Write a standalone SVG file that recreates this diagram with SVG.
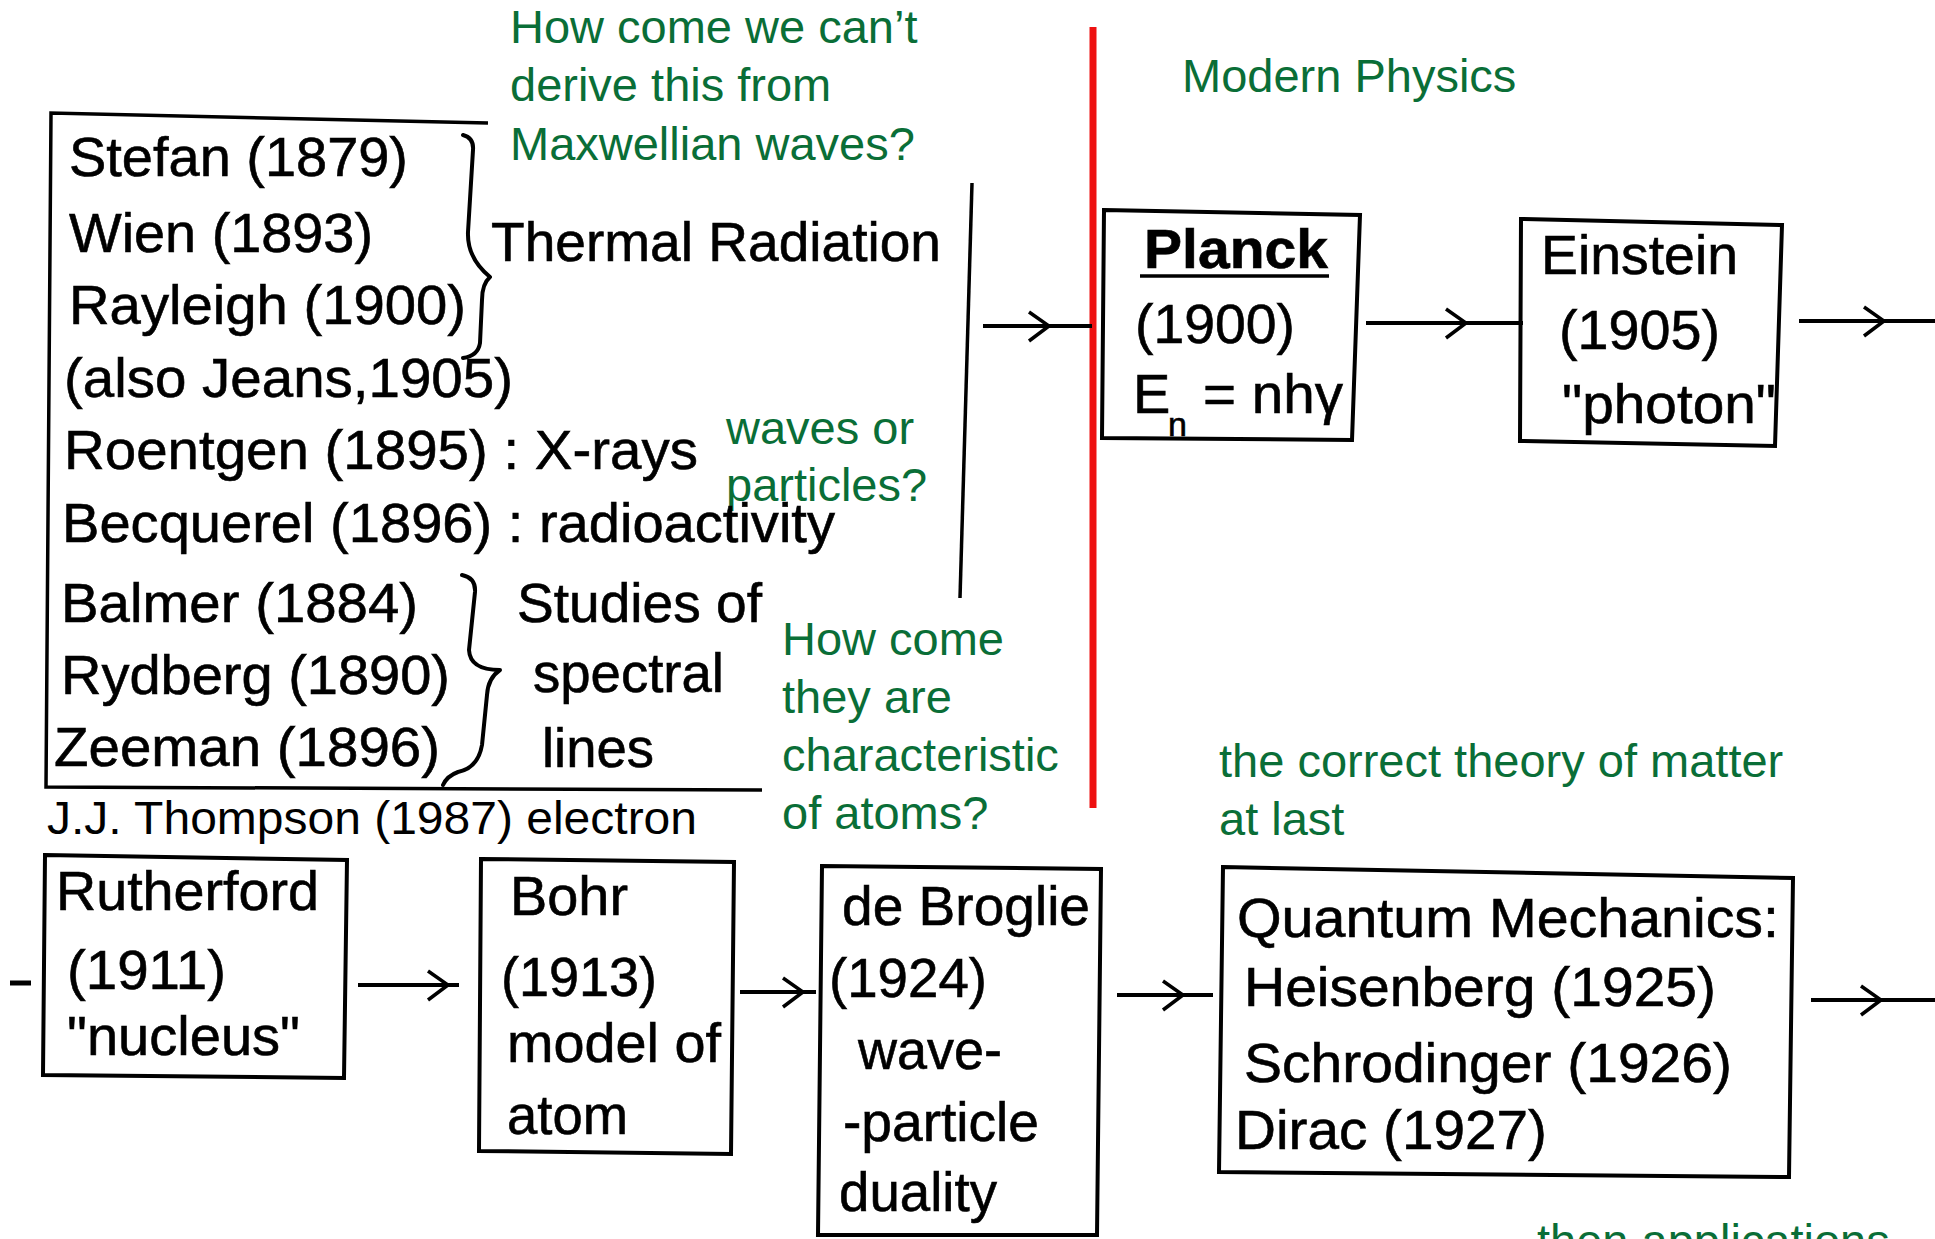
<svg xmlns="http://www.w3.org/2000/svg" width="1935" height="1239" viewBox="0 0 1935 1239">
<style>
  .t { font-family: "Liberation Sans", Arial, sans-serif; font-size: 56px; fill: #000; stroke: #000; stroke-width: 0.6; }
  .b { font-weight: bold; }
  .sub { font-size: 34px; }
  .n { font-family: "Liberation Sans", Arial, sans-serif; font-size: 47px; fill: #0a6e37; }
  .k { font-family: "Liberation Sans", Arial, sans-serif; font-size: 47px; fill: #000; }
  .box { fill: none; stroke: #000; stroke-width: 4; stroke-linejoin: miter; }
  .ln { fill: none; stroke: #000; stroke-width: 3.5; }
  .br { fill: none; stroke: #000; stroke-width: 4; stroke-linecap: round; stroke-linejoin: round; }
  .arr { fill: none; stroke: #000; stroke-width: 4; marker-mid: url(#chev); }
</style>
<defs>
  <marker id="chev" markerUnits="userSpaceOnUse" viewBox="-24 -18 28 36" markerWidth="28" markerHeight="36" refX="0" refY="0" orient="auto" overflow="visible">
    <path d="M -20 -14 L 0 0 L -20 15" fill="none" stroke="#000" stroke-width="3.5"/>
  </marker>
</defs>
<rect width="1935" height="1239" fill="#fff"/>

<!-- divider -->
<line x1="1093" y1="27" x2="1093" y2="808" stroke="#ee1111" stroke-width="7"/>

<!-- notes -->
<g id="note-maxwell">
  <text class="n" x="510" y="43">How come we can’t</text>
  <text class="n" x="510" y="101">derive this from</text>
  <text class="n" x="510" y="160">Maxwellian waves?</text>
</g>
<g id="note-modern">
  <text class="n" x="1182" y="92">Modern Physics</text>
</g>
<g id="note-waves">
  <text class="n" x="726" y="444">waves or</text>
  <text class="n" x="726" y="501">particles?</text>
</g>
<g id="note-atoms">
  <text class="n" x="782" y="655">How come</text>
  <text class="n" x="782" y="713">they are</text>
  <text class="n" x="782" y="771">characteristic</text>
  <text class="n" x="782" y="829">of atoms?</text>
</g>
<g id="note-theory">
  <text class="n" x="1219" y="777">the correct theory of matter</text>
  <text class="n" x="1219" y="835">at last</text>
</g>
<g id="note-applications">
  <text class="n" x="1537" y="1257">then applications</text>
</g>

<!-- classical physics node -->
<g id="classical">
  <path class="ln" d="M 488 123 L 51 113 L 46 787 L 762 790"/>
  <line class="ln" x1="972" y1="183" x2="960" y2="598"/>
  <path class="br" d="M 463 135 Q 474 138 473 150 L 468 232 Q 467 258 490 277 Q 482 284 482 300 L 480 343 Q 478 356 463 358"/>
  <path class="br" d="M 462 575 Q 476 578 475 592 L 469 650 Q 470 670 500 670 Q 488 678 487 695 L 482 745 Q 478 768 458 772 Q 447 776 443 785"/>
  <text class="t" x="69" y="176" textLength="339" lengthAdjust="spacingAndGlyphs">Stefan (1879)</text>
  <text class="t" x="69" y="252" textLength="304" lengthAdjust="spacingAndGlyphs">Wien (1893)</text>
  <text class="t" x="69" y="324" textLength="397" lengthAdjust="spacingAndGlyphs">Rayleigh (1900)</text>
  <text class="t" x="64" y="397" textLength="449" lengthAdjust="spacingAndGlyphs">(also Jeans,1905)</text>
  <text class="t" x="64" y="469" textLength="634" lengthAdjust="spacingAndGlyphs">Roentgen (1895) : X-rays</text>
  <text class="t" x="62" y="542" textLength="773" lengthAdjust="spacingAndGlyphs">Becquerel (1896) : radioactivity</text>
  <text class="t" x="491" y="261" textLength="450" lengthAdjust="spacingAndGlyphs">Thermal Radiation</text>
  <text class="t" x="61" y="622" textLength="357" lengthAdjust="spacingAndGlyphs">Balmer (1884)</text>
  <text class="t" x="61" y="694" textLength="389" lengthAdjust="spacingAndGlyphs">Rydberg (1890)</text>
  <text class="t" x="54" y="766" textLength="386" lengthAdjust="spacingAndGlyphs">Zeeman (1896)</text>
  <text class="t" x="517" y="622" textLength="245" lengthAdjust="spacingAndGlyphs">Studies of</text>
  <text class="t" x="533" y="692" textLength="191" lengthAdjust="spacingAndGlyphs">spectral</text>
  <text class="t" x="542" y="767" textLength="112" lengthAdjust="spacingAndGlyphs">lines</text>
</g>

<g id="thompson">
  <text class="k" x="47" y="834" textLength="650" lengthAdjust="spacingAndGlyphs">J.J. Thompson (1987) electron</text>
</g>

<!-- Planck -->
<g id="planck">
  <path class="box" d="M 1104 210 L 1360 215 L 1352 440 L 1102 438 Z"/>
  <text class="t b" x="1144" y="268" textLength="184" lengthAdjust="spacingAndGlyphs">Planck</text>
  <line x1="1140" y1="276" x2="1329" y2="276" stroke="#000" stroke-width="3.5"/>
  <text class="t" x="1135" y="343" textLength="160" lengthAdjust="spacingAndGlyphs">(1900)</text>
  <text class="t" x="1133" y="413">E</text>
  <text class="t sub" x="1168" y="436">n</text>
  <text class="t" x="1203" y="413" textLength="140" lengthAdjust="spacingAndGlyphs">= nhγ</text>
</g>

<!-- Einstein -->
<g id="einstein">
  <path class="box" d="M 1521 219 L 1782 225 L 1775 446 L 1520 441 Z"/>
  <text class="t" x="1541" y="274" textLength="197" lengthAdjust="spacingAndGlyphs">Einstein</text>
  <text class="t" x="1559" y="349" textLength="161" lengthAdjust="spacingAndGlyphs">(1905)</text>
  <text class="t" x="1562" y="423" textLength="214" lengthAdjust="spacingAndGlyphs">"photon"</text>
</g>

<!-- Rutherford -->
<g id="rutherford">
  <path class="box" d="M 45 855 L 347 860 L 344 1078 L 43 1075 Z"/>
  <text class="t" x="56" y="910" textLength="263" lengthAdjust="spacingAndGlyphs">Rutherford</text>
  <text class="t" x="67" y="989" textLength="159" lengthAdjust="spacingAndGlyphs">(1911)</text>
  <text class="t" x="67" y="1055" textLength="233" lengthAdjust="spacingAndGlyphs">"nucleus"</text>
</g>

<!-- Bohr -->
<g id="bohr">
  <path class="box" d="M 481 859 L 734 862 L 731 1154 L 479 1151 Z"/>
  <text class="t" x="510" y="915" textLength="118" lengthAdjust="spacingAndGlyphs">Bohr</text>
  <text class="t" x="501" y="996" textLength="156" lengthAdjust="spacingAndGlyphs">(1913)</text>
  <text class="t" x="507" y="1062" textLength="214" lengthAdjust="spacingAndGlyphs">model of</text>
  <text class="t" x="507" y="1134" textLength="121" lengthAdjust="spacingAndGlyphs">atom</text>
</g>

<!-- de Broglie -->
<g id="debroglie">
  <path class="box" d="M 822 866 L 1101 869 L 1097 1235 L 818 1235 Z"/>
  <text class="t" x="842" y="925" textLength="248" lengthAdjust="spacingAndGlyphs">de Broglie</text>
  <text class="t" x="829" y="997" textLength="158" lengthAdjust="spacingAndGlyphs">(1924)</text>
  <text class="t" x="858" y="1069" textLength="144" lengthAdjust="spacingAndGlyphs">wave-</text>
  <text class="t" x="843" y="1141" textLength="196" lengthAdjust="spacingAndGlyphs">-particle</text>
  <text class="t" x="839" y="1211" textLength="158" lengthAdjust="spacingAndGlyphs">duality</text>
</g>

<!-- Quantum Mechanics -->
<g id="quantum">
  <path class="box" d="M 1223 867 L 1793 878 L 1789 1177 L 1219 1172 Z"/>
  <text class="t" x="1237" y="937" textLength="542" lengthAdjust="spacingAndGlyphs">Quantum Mechanics:</text>
  <text class="t" x="1244" y="1006" textLength="472" lengthAdjust="spacingAndGlyphs">Heisenberg (1925)</text>
  <text class="t" x="1244" y="1082" textLength="488" lengthAdjust="spacingAndGlyphs">Schrodinger (1926)</text>
  <text class="t" x="1235" y="1149" textLength="312" lengthAdjust="spacingAndGlyphs">Dirac (1927)</text>
</g>

<!-- connectors -->
<g id="connectors">
  <polyline class="arr" points="983,326 1049,326 1092,326"/>
  <polyline class="arr" points="1366,323 1466,323 1523,323"/>
  <polyline class="arr" points="1799,321 1884,321 1935,321"/>
  <line x1="10" y1="983" x2="31" y2="983" stroke="#000" stroke-width="5"/>
  <polyline class="arr" points="358,985 448,985 459,985"/>
  <polyline class="arr" points="740,992 803,992 816,992"/>
  <polyline class="arr" points="1117,995 1183,995 1213,995"/>
  <polyline class="arr" points="1811,1000 1881,1000 1935,1000"/>
</g>
</svg>
